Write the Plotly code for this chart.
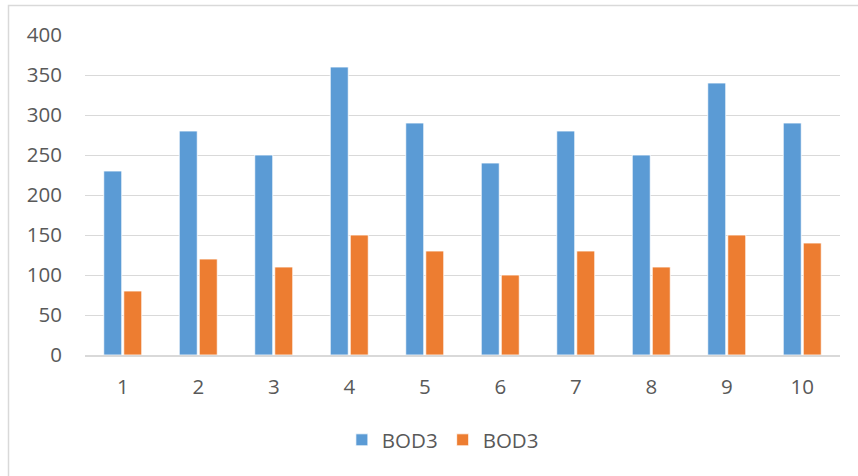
import plotly.graph_objects as go

categories = ["1", "2", "3", "4", "5", "6", "7", "8", "9", "10"]
series_a_name = "BOD3"
series_a = [230, 280, 250, 360, 290, 240, 280, 250, 340, 290]
series_b_name = "BOD3"
series_b = [80, 120, 110, 150, 130, 100, 130, 110, 150, 140]
y_ticks = [0, 50, 100, 150, 200, 250, 300, 350, 400]

W, H = 858, 476
L, R, T, B = 85, 18, 35, 121
plot_w = W - L - R
plot_h = H - T - B

font_family = "Open Sans, Noto Sans, sans-serif"
text_color = "#595959"
grid_color = "#D9D9D9"
label_size = 20.5

fig = go.Figure()
fig.add_trace(go.Bar(
    x=categories, y=series_a, name=series_a_name,
    marker=dict(color="#5B9BD5", line=dict(color="#FFFFFF", width=0.8)),
))
fig.add_trace(go.Bar(
    x=categories, y=series_b, name=series_b_name,
    marker=dict(color="#ED7D31", line=dict(color="#FFFFFF", width=0.8)),
))

# outer chart frame (top and left edges fall inside the canvas)
fig.add_shape(
    type="rect", xref="paper", yref="paper",
    x0=(8.5 - L) / plot_w, x1=(W + 20 - L) / plot_w,
    y0=-(B + 20) / plot_h, y1=(H - B - 5.5) / plot_h,
    line=dict(color=grid_color, width=1.5), fillcolor="rgba(0,0,0,0)",
    layer="below",
)

fig.update_layout(
    width=W, height=H,
    margin=dict(l=L, r=R, t=T, b=B),
    paper_bgcolor="white", plot_bgcolor="white",
    barmode="group", bargap=0.47, bargroupgap=0.1,
    font=dict(family=font_family, size=label_size, color=text_color),
    showlegend=True,
    legend=dict(
        orientation="h", x=0.474, xanchor="center",
        y=(355 - 440) / plot_h, yanchor="middle",
        font=dict(size=label_size, color=text_color), itemwidth=30,
        traceorder="normal",
    ),
    xaxis=dict(
        type="category", showgrid=False, showline=True,
        linecolor=grid_color, linewidth=1.5, ticks="", ticklabelstandoff=13,
        tickfont=dict(size=label_size, color=text_color),
    ),
    yaxis=dict(
        range=[0, 400], tickvals=y_ticks, showgrid=True,
        gridcolor=grid_color, gridwidth=1.2, zeroline=False,
        showline=False, ticks="", ticklabelstandoff=22,
        tickfont=dict(size=label_size, color=text_color),
    ),
)

fig.write_html("out.html")
